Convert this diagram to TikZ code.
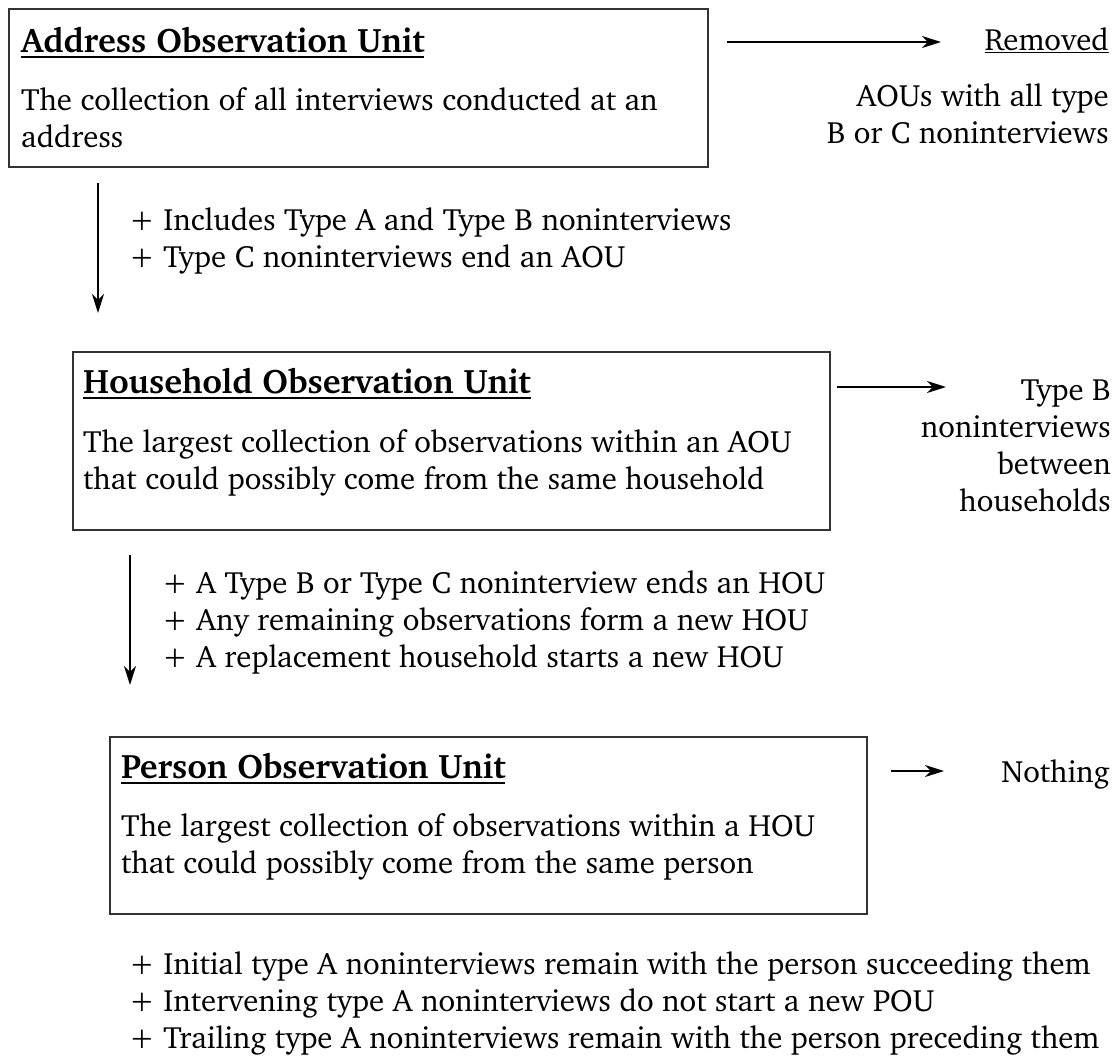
\documentclass[tikz,border=0pt]{standalone}
\usepackage[T1]{fontenc}
\usepackage{charter}
\usetikzlibrary{arrows.meta}
\newcommand\myul[3]{\setbox0\hbox{#1}\leavevmode\rlap{\rule[\dimexpr-#2-#3\relax]{\wd0}{#3}}\box0}
\begin{document}
\begin{tikzpicture}[x=1pt,y=-1pt,
  txt/.style={inner sep=0pt, font=\fontsize{30.8}{37}\selectfont},
  lt/.style={txt, anchor=base west, align=left},
  rt/.style={txt, anchor=base east, align=right},
  ttl/.style={inner sep=0pt, anchor=base west, font=\fontsize{34}{40}\selectfont\bfseries},
  unitbox/.style={draw=black!80, line width=1.8pt, inner sep=0pt, anchor=north west},
  arr/.style={line width=1.9pt, -{Stealth[length=19pt,width=12pt,inset=6pt]}}]
\useasboundingbox (0,0) rectangle (1119,1055);
% Box 1
\node[unitbox, minimum width=699pt, minimum height=158pt] (box1) at (8,8) {};
\node[ttl] (t1) at (21,52) {\myul{Address Observation Unit}{3.5pt}{2.4pt}};
\node[lt] (b1) at (21,147) {The collection of all interviews conducted at an\\address};
\coordinate (r1s) at (727,42);
\coordinate (r1e) at (941,42);
\draw[arr] (r1s) -- (r1e);
\node[rt] (rem) at (1109,50) {\myul{Removed}{1.5pt}{1.6pt}};
\node[rt] (aou) at (1109,143) {AOUs with all type\\B or C noninterviews};
\coordinate (d1s) at (98,183);
\coordinate (d1e) at (98,313);
\draw[arr] (d1s) -- (d1e);
\node[lt] (n1) at (129,267) {+ Includes Type A and Type B noninterviews\\+ Type C noninterviews end an AOU};
% Box 2
\node[unitbox, minimum width=757pt, minimum height=178pt] (box2) at (72,351) {};
\node[ttl] (t2) at (83,393) {\myul{Household Observation Unit}{3.5pt}{2.4pt}};
\node[lt] (b2) at (83,489) {The largest collection of observations within an AOU\\that could possibly come from the same household};
\coordinate (r2s) at (837,387);
\coordinate (r2e) at (946,387);
\draw[arr] (r2s) -- (r2e);
\node[rt] (tb) at (1111,511) {Type B\\noninterviews\\between\\households};
\coordinate (d2s) at (130,555);
\coordinate (d2e) at (130,685);
\draw[arr] (d2s) -- (d2e);
\node[lt] (n2) at (162,667) {+ A Type B or Type C noninterview ends an HOU\\+ Any remaining observations form a new HOU\\+ A replacement household starts a new HOU};
% Box 3
\node[unitbox, minimum width=757pt, minimum height=177pt] (box3) at (109,736) {};
\node[ttl] (t3) at (121,778) {\myul{Person Observation Unit}{3.5pt}{2.4pt}};
\node[lt] (b3) at (121,873) {The largest collection of observations within a HOU\\that could possibly come from the same person};
\coordinate (r3s) at (891,771);
\coordinate (r3e) at (944,771);
\draw[arr] (r3s) -- (r3e);
\node[rt] (noth) at (1110,782) {Nothing};
\node[lt] (n3) at (129,1048) {+ Initial type A noninterviews remain with the person succeeding them\\+ Intervening type A noninterviews do not start a new POU\\+ Trailing type A noninterviews remain with the person preceding them};
\end{tikzpicture}
\end{document}
